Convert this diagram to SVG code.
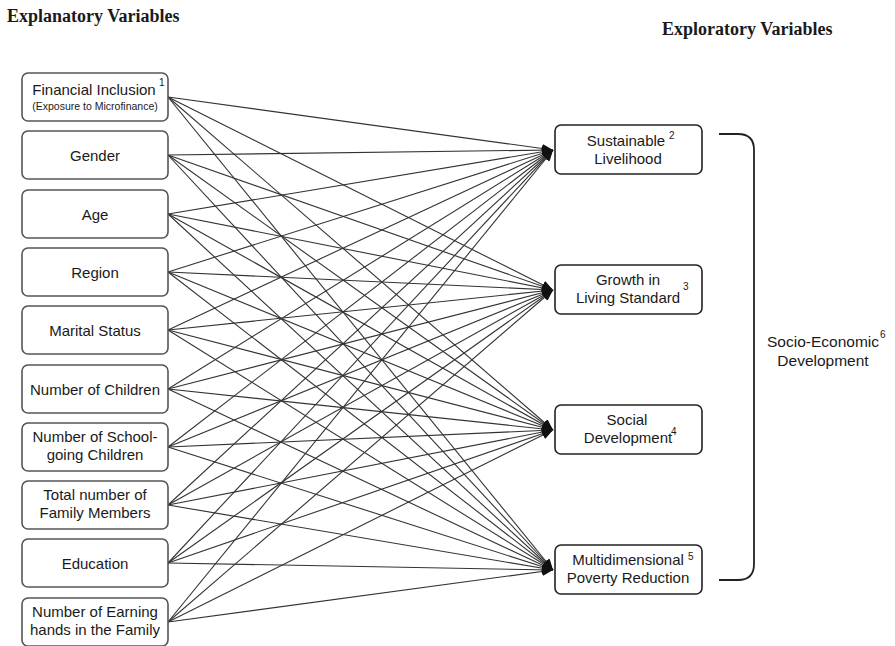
<svg xmlns="http://www.w3.org/2000/svg" width="895" height="646" viewBox="0 0 895 646">
<defs>
<style>
.title{font-family:"Liberation Serif","Times New Roman",serif;font-weight:bold;font-size:18px;fill:#1a1a1a}
.lbox{fill:#fff;stroke:#555;stroke-width:1.6}
.rbox{fill:#fff;stroke:#222;stroke-width:1.6}
.t{font-family:"Liberation Sans",Arial,sans-serif;font-size:15px;fill:#1a1a1a;text-anchor:middle}
.s{font-family:"Liberation Sans",Arial,sans-serif;font-size:10.5px;fill:#1a1a1a;text-anchor:middle}
.sup{font-family:"Liberation Sans",Arial,sans-serif;font-size:10px;fill:#1a1a1a}
.c{stroke:#333;stroke-width:1.1;fill:none;marker-end:url(#ah)}
.br{stroke:#222;stroke-width:1.8;fill:none}
</style>
<marker id="ah" markerUnits="userSpaceOnUse" markerWidth="11" markerHeight="9" refX="11" refY="4.5" orient="auto">
<path d="M0,0 L11,4.5 L0,9 z" fill="#111"/>
</marker>
</defs>
<rect width="895" height="646" fill="#fff"/>
<text class="title" x="7" y="22">Explanatory Variables</text>
<text class="title" x="662" y="35">Exploratory Variables</text>

<g id="connectors">
<line class="c" x1="168" y1="97" x2="553" y2="150"/>
<line class="c" x1="168" y1="97" x2="553" y2="290"/>
<line class="c" x1="168" y1="97" x2="553" y2="430"/>
<line class="c" x1="168" y1="97" x2="553" y2="570"/>
<line class="c" x1="168" y1="155" x2="553" y2="150"/>
<line class="c" x1="168" y1="155" x2="553" y2="290"/>
<line class="c" x1="168" y1="155" x2="553" y2="430"/>
<line class="c" x1="168" y1="155" x2="553" y2="570"/>
<line class="c" x1="168" y1="214" x2="553" y2="150"/>
<line class="c" x1="168" y1="214" x2="553" y2="290"/>
<line class="c" x1="168" y1="214" x2="553" y2="430"/>
<line class="c" x1="168" y1="214" x2="553" y2="570"/>
<line class="c" x1="168" y1="272" x2="553" y2="150"/>
<line class="c" x1="168" y1="272" x2="553" y2="290"/>
<line class="c" x1="168" y1="272" x2="553" y2="430"/>
<line class="c" x1="168" y1="272" x2="553" y2="570"/>
<line class="c" x1="168" y1="330" x2="553" y2="150"/>
<line class="c" x1="168" y1="330" x2="553" y2="290"/>
<line class="c" x1="168" y1="330" x2="553" y2="430"/>
<line class="c" x1="168" y1="330" x2="553" y2="570"/>
<line class="c" x1="168" y1="389" x2="553" y2="150"/>
<line class="c" x1="168" y1="389" x2="553" y2="290"/>
<line class="c" x1="168" y1="389" x2="553" y2="430"/>
<line class="c" x1="168" y1="389" x2="553" y2="570"/>
<line class="c" x1="168" y1="447" x2="553" y2="150"/>
<line class="c" x1="168" y1="447" x2="553" y2="290"/>
<line class="c" x1="168" y1="447" x2="553" y2="430"/>
<line class="c" x1="168" y1="447" x2="553" y2="570"/>
<line class="c" x1="168" y1="505" x2="553" y2="150"/>
<line class="c" x1="168" y1="505" x2="553" y2="290"/>
<line class="c" x1="168" y1="505" x2="553" y2="430"/>
<line class="c" x1="168" y1="505" x2="553" y2="570"/>
<line class="c" x1="168" y1="563" x2="553" y2="150"/>
<line class="c" x1="168" y1="563" x2="553" y2="290"/>
<line class="c" x1="168" y1="563" x2="553" y2="430"/>
<line class="c" x1="168" y1="563" x2="553" y2="570"/>
<line class="c" x1="168" y1="622" x2="553" y2="150"/>
<line class="c" x1="168" y1="622" x2="553" y2="290"/>
<line class="c" x1="168" y1="622" x2="553" y2="430"/>
<line class="c" x1="168" y1="622" x2="553" y2="570"/>
</g>

<g id="n1"><rect class="lbox" x="22" y="73" width="146" height="48" rx="6"/>
<text class="t" x="94" y="95">Financial Inclusion</text><text class="sup" x="159" y="86">1</text>
<text class="s" x="95" y="110">(Exposure to Microfinance)</text></g>
<g id="n2"><rect class="lbox" x="22" y="131" width="146" height="48" rx="6"/>
<text class="t" x="95" y="160.5">Gender</text></g>
<g id="n3"><rect class="lbox" x="22" y="190" width="146" height="48" rx="6"/>
<text class="t" x="95" y="219.5">Age</text></g>
<g id="n4"><rect class="lbox" x="22" y="248" width="146" height="48" rx="6"/>
<text class="t" x="95" y="277.5">Region</text></g>
<g id="n5"><rect class="lbox" x="22" y="306" width="146" height="48" rx="6"/>
<text class="t" x="95" y="335.5">Marital Status</text></g>
<g id="n6"><rect class="lbox" x="22" y="365" width="146" height="48" rx="6"/>
<text class="t" x="95" y="394.5">Number of Children</text></g>
<g id="n7"><rect class="lbox" x="22" y="423" width="146" height="48" rx="6"/>
<text class="t" x="95" y="442">Number of School-</text>
<text class="t" x="95" y="460">going Children</text></g>
<g id="n8"><rect class="lbox" x="22" y="481" width="146" height="48" rx="6"/>
<text class="t" x="95" y="500">Total number of</text>
<text class="t" x="95" y="518">Family Members</text></g>
<g id="n9"><rect class="lbox" x="22" y="539" width="146" height="48" rx="6"/>
<text class="t" x="95" y="568.5">Education</text></g>
<g id="n10"><rect class="lbox" x="22" y="598" width="146" height="48" rx="6"/>
<text class="t" x="95" y="617">Number of Earning</text>
<text class="t" x="95" y="635">hands in the Family</text></g>

<g id="r1"><rect class="rbox" x="555" y="125" width="147" height="49" rx="6"/>
<text class="t" x="626" y="146">Sustainable</text><text class="sup" x="669" y="139">2</text>
<text class="t" x="628" y="164">Livelihood</text></g>
<g id="r2"><rect class="rbox" x="555" y="265" width="147" height="49" rx="6"/>
<text class="t" x="628" y="285">Growth in</text>
<text class="t" x="628" y="303">Living Standard</text><text class="sup" x="683" y="290">3</text></g>
<g id="r3"><rect class="rbox" x="555" y="405" width="147" height="49" rx="6"/>
<text class="t" x="627" y="425">Social</text>
<text class="t" x="628" y="443">Development</text><text class="sup" x="671" y="435">4</text></g>
<g id="r4"><rect class="rbox" x="555" y="545" width="147" height="49" rx="6"/>
<text class="t" x="628" y="565">Multidimensional</text><text class="sup" x="688" y="560">5</text>
<text class="t" x="628" y="583">Poverty Reduction</text></g>

<g id="bracket"><path class="br" d="M719,134 H738 Q754,134 754,150 V564 Q754,580 738,580 H719"/></g>
<g id="socio"><text class="t" x="823" y="347" style="font-size:15.5px">Socio-Economic</text><text class="sup" x="880" y="338">6</text>
<text class="t" x="823" y="366" style="font-size:15.5px">Development</text></g>
</svg>
